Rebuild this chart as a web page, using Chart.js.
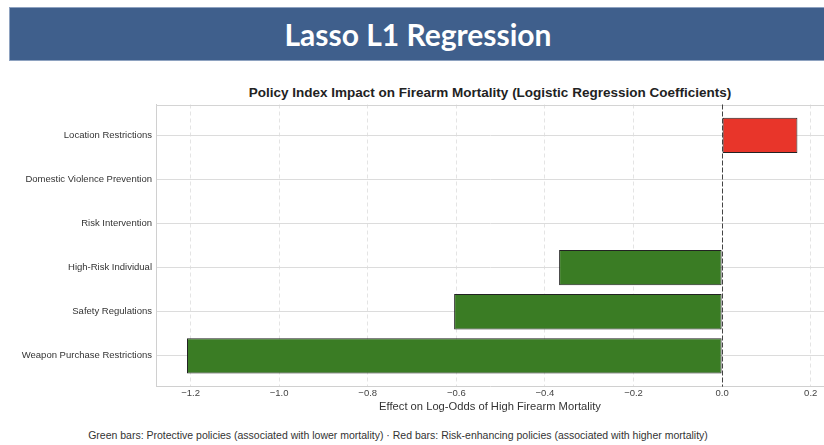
<!DOCTYPE html>
<html>
<head>
<meta charset="utf-8">
<script src="https://cdn.jsdelivr.net/npm/chart.js@4.4.0/dist/chart.umd.min.js"></script>
<style>
    html, body { margin: 0; padding: 0; background: #fff; overflow: hidden; }
    body { width: 824px; height: 445px; position: relative; }
    #header {
        position: absolute; left: 9px; top: 7px; width: 830px; height: 54px;
        background: #3f5f8c; border: 1px solid #8ea2c0; box-sizing: border-box;
        color: #fff; font: bold 30px Lato, "Open Sans", sans-serif;
        text-align: center; line-height: 52px; z-index: 2;
        padding-right: 12px;
    }
    #title {
        position: absolute; left: 190px; top: 85px; width: 600px; text-align: center;
        font: bold 13.5px "Liberation Sans", Arial, sans-serif; color: #222;
    }
    #wrap { position: absolute; left: 0; top: 0; width: 824px; height: 420px; }
    #footer {
        position: absolute; left: 0; top: 429px; width: 796px; text-align: center;
        font: 10.5px "Liberation Sans", Arial, sans-serif; color: #333;
    }
</style>
</head>
<body>
<div id="header">Lasso L1 Regression</div>
<div id="title">Policy Index Impact on Firearm Mortality (Logistic Regression Coefficients)</div>
<div id="wrap"><canvas id="chart"></canvas></div>
<div id="footer">Green bars: Protective policies (associated with lower mortality) · Red bars: Risk-enhancing policies (associated with higher mortality)</div>
<script>
// 카테고리 (위에서 아래로)
const categories = ['Location Restrictions', 'Domestic Violence Prevention', 'Risk Intervention',
    'High-Risk Individual', 'Safety Regulations', 'Weapon Purchase Restrictions'];
// 계수 값
const coefficients = [0.170, 0.0, 0.0, -0.368, -0.605, -1.208];
// x축 눈금
const xTicks = [-1.2, -1.0, -0.8, -0.6, -0.4, -0.2, 0.0, 0.2];

const fontFamily = '"Liberation Sans", Arial, sans-serif';

// 위쪽 테두리 + 0 기준 점선
const framePlugin = {
    id: 'frame',
    beforeDatasetsDraw(chart) {
        const a = chart.chartArea, ctx = chart.ctx;
        ctx.save();
        ctx.strokeStyle = '#d4d4d4';
        ctx.lineWidth = 1;
        ctx.beginPath();
        ctx.moveTo(a.left, Math.round(a.top) + 0.5);
        ctx.lineTo(a.right, Math.round(a.top) + 0.5);
        ctx.stroke();
        ctx.restore();
    },
    afterDatasetsDraw(chart) {
        const a = chart.chartArea, ctx = chart.ctx;
        const x0 = Math.round(chart.scales.x.getPixelForValue(0)) + 0.5;
        ctx.save();
        ctx.strokeStyle = '#444';
        ctx.lineWidth = 1;
        ctx.setLineDash([5, 2]);
        ctx.beginPath();
        ctx.moveTo(x0, a.top);
        ctx.lineTo(x0, a.bottom);
        ctx.stroke();
        ctx.restore();
    }
};

var ctx = document.getElementById('chart').getContext('2d');
var chart = new Chart(ctx, {
    type: 'bar',
    data: {
        datasets: [{
            data: coefficients.map(function (v, i) { return {x: v, y: i}; }),
            backgroundColor: coefficients.map(function (v) { return v > 0 ? '#e8352a' : '#3a7c24'; }),
            borderColor: '#222',
            borderWidth: 1,
            borderSkipped: false,
            barPercentage: 0.8,
            categoryPercentage: 1.0
        }]
    },
    plugins: [framePlugin],
    options: {
        indexAxis: 'y',
        responsive: true,
        maintainAspectRatio: false,
        animation: false,
        layout: { padding: { top: 104.5, bottom: 3.3, left: 0, right: 0 } },
        plugins: {
            legend: { display: false },
            tooltip: { enabled: false },
            title: { display: false }
        },
        scales: {
            x: {
                type: 'linear',
                min: -1.278,
                max: 0.23,
                afterBuildTicks: function (scale) {
                    scale.ticks = xTicks.map(function (v) { return {value: v}; });
                },
                afterFit: function (scale) { scale.height = 30; },
                ticks: {
                    color: '#444',
                    padding: 1,
                    font: { family: fontFamily, size: 9.5 },
                    callback: function (v) { return v.toFixed(1).replace('-', '\u2212'); }
                },
                grid: { color: '#e4e4e4', drawTicks: false },
                border: { display: true, color: '#d0d0d0', dash: [4, 3] },
                title: {
                    display: true,
                    text: 'Effect on Log-Odds of High Firearm Mortality',
                    color: '#333',
                    font: { family: fontFamily, size: 11.2 },
                    padding: { top: 0, bottom: 3 }
                }
            },
            y: {
                type: 'linear',
                reverse: true,
                offset: false,
                min: -0.7,
                max: 5.7,
                afterBuildTicks: function (scale) {
                    scale.ticks = categories.map(function (c, i) { return {value: i}; });
                },
                afterFit: function (scale) { scale.width = 156; },
                ticks: {
                    color: '#333',
                    padding: 4,
                    font: { family: fontFamily, size: 9.5 },
                    callback: function (v) { return categories[v]; }
                },
                grid: { color: '#dcdcdc', drawTicks: false, offset: false },
                border: { display: true, color: '#d0d0d0' }
            }
        }
    }
});
</script>
</body>
</html>
